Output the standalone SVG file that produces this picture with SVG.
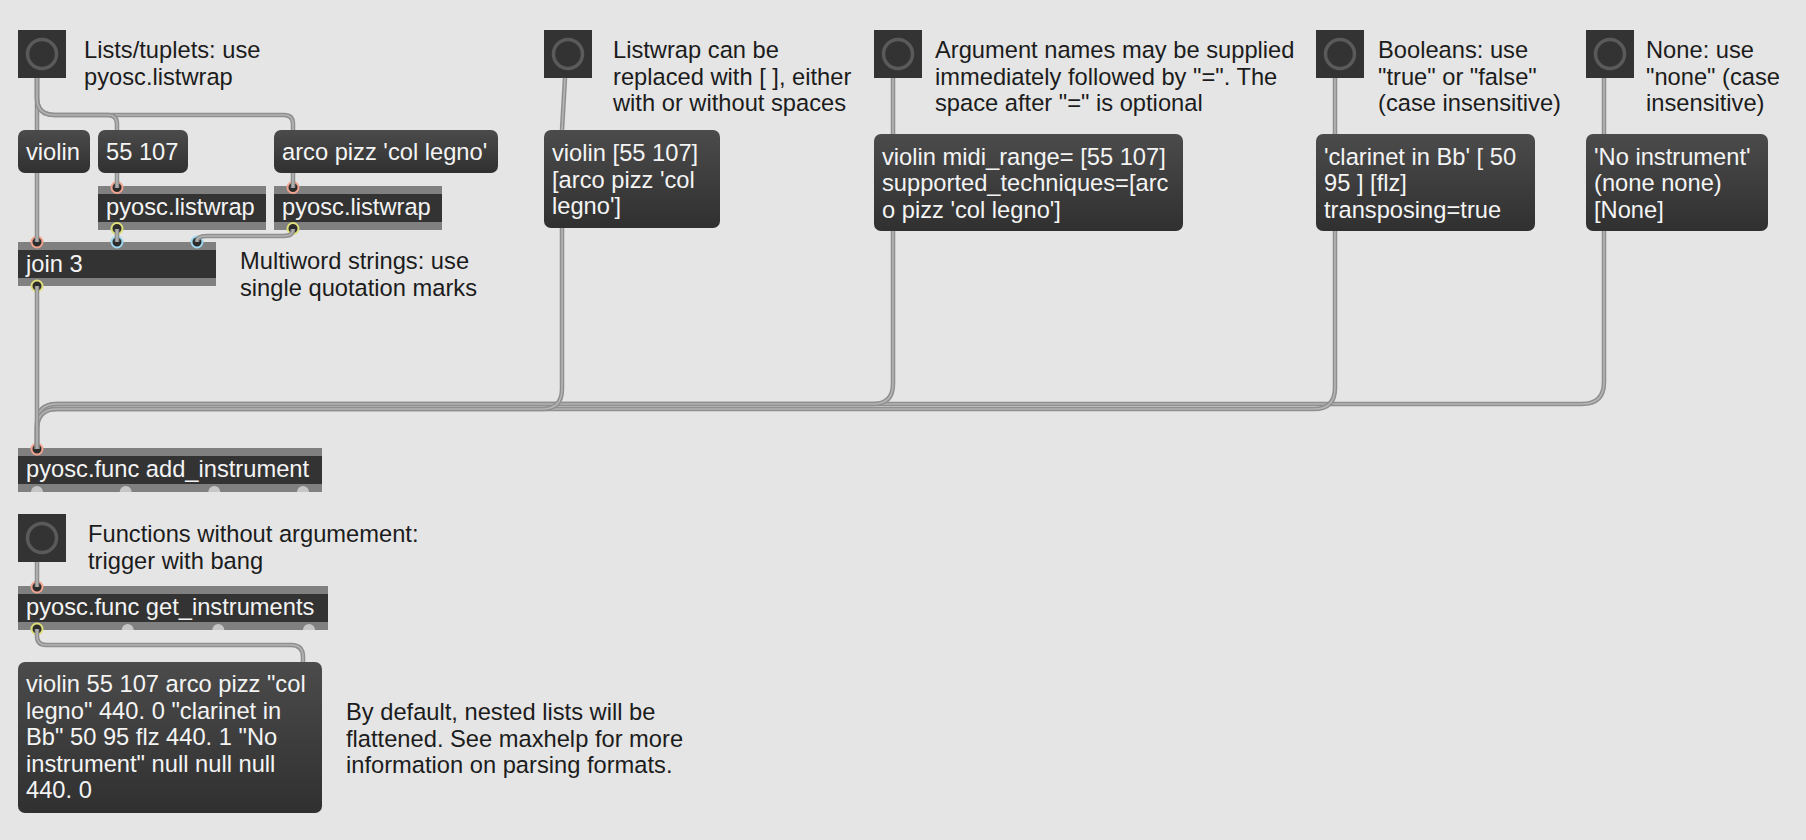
<svg xmlns="http://www.w3.org/2000/svg" width="1806" height="840" viewBox="0 0 1806 840">
<defs>
<linearGradient id="mg" x1="0" y1="0" x2="0" y2="1"><stop offset="0" stop-color="#4b4b4b"/><stop offset="1" stop-color="#303030"/></linearGradient>
<style>
text{font-family:"Liberation Sans",Arial,Helvetica,sans-serif;font-size:23.7px}
.cm{fill:#1c1c1c}
.mt{fill:#f4f4f4}
.msg{fill:url(#mg)}
.bang{fill:#333333}
.ring{fill:none;stroke:#5a5a5a;stroke-width:3.5}
.band{fill:#808080}
.core{fill:#333333}
.in{fill:#2c2c2c;stroke:#f2a38f;stroke-width:2}
.inb{fill:#2c2c2c;stroke:#9fd8ee;stroke-width:2}
.out{fill:#2c2c2c;stroke:#dede78;stroke-width:2}
.bump{fill:#c6c6c6}
.co{fill:none;stroke:#8f8f8f;stroke-width:4.5;stroke-linejoin:round}
.ci{fill:none;stroke:#b4b4b4;stroke-width:1.6;stroke-linejoin:round}
</style>
</defs>
<rect width="1806" height="840" fill="#e5e5e5"/>

<!-- comments -->
<g id="comment_lists"><text class="cm" x="84" y="58">Lists/tuplets: use</text><text class="cm" x="84" y="84.5">pyosc.listwrap</text></g>
<g id="comment_multiword"><text class="cm" x="240" y="269">Multiword strings: use</text><text class="cm" x="240" y="295.5">single quotation marks</text></g>
<g id="comment_listwrap"><text class="cm" x="613" y="58">Listwrap can be</text><text class="cm" x="613" y="84.5">replaced with [ ], either</text><text class="cm" x="613" y="111">with or without spaces</text></g>
<g id="comment_args"><text class="cm" x="935" y="58">Argument names may be supplied</text><text class="cm" x="935" y="84.5">immediately followed by "=". The</text><text class="cm" x="935" y="111">space after "=" is optional</text></g>
<g id="comment_bool"><text class="cm" x="1378" y="58">Booleans: use</text><text class="cm" x="1378" y="84.5">"true" or "false"</text><text class="cm" x="1378" y="111">(case insensitive)</text></g>
<g id="comment_none"><text class="cm" x="1646" y="58">None: use</text><text class="cm" x="1646" y="84.5">"none" (case</text><text class="cm" x="1646" y="111">insensitive)</text></g>
<g id="comment_func"><text class="cm" x="88" y="542">Functions without argumement:</text><text class="cm" x="88" y="568.5">trigger with bang</text></g>
<g id="comment_default"><text class="cm" x="346" y="720">By default, nested lists will be</text><text class="cm" x="346" y="746.5">flattened. See maxhelp for more</text><text class="cm" x="346" y="773">information on parsing formats.</text></g>

<!-- bangs -->
<g id="bang1"><rect class="bang" x="18" y="30" width="48" height="48"/><circle class="ring" cx="42" cy="54" r="14.5"/></g>
<g id="bang2"><rect class="bang" x="544" y="30" width="48" height="48"/><circle class="ring" cx="568" cy="54" r="14.5"/></g>
<g id="bang3"><rect class="bang" x="874" y="30" width="48" height="48"/><circle class="ring" cx="898" cy="54" r="14.5"/></g>
<g id="bang4"><rect class="bang" x="1316" y="30" width="48" height="48"/><circle class="ring" cx="1340" cy="54" r="14.5"/></g>
<g id="bang5"><rect class="bang" x="1586" y="30" width="48" height="48"/><circle class="ring" cx="1610" cy="54" r="14.5"/></g>
<g id="bang6"><rect class="bang" x="18" y="514" width="48" height="48"/><circle class="ring" cx="42" cy="538" r="14.5"/></g>

<!-- messages -->
<g id="msg_violin"><rect class="msg" x="18" y="130" width="72" height="43" rx="7"/><text class="mt" x="26" y="160">violin</text></g>
<g id="msg_range"><rect class="msg" x="98" y="130" width="90" height="43" rx="7"/><text class="mt" x="106" y="160">55 107</text></g>
<g id="msg_tech"><rect class="msg" x="274" y="130" width="224" height="43" rx="7"/><text class="mt" x="282" y="160">arco pizz 'col legno'</text></g>
<g id="msg_brackets"><rect class="msg" x="544" y="130" width="176" height="98" rx="7"/><text class="mt" x="552" y="161">violin [55 107]</text><text class="mt" x="552" y="187.5">[arco pizz 'col</text><text class="mt" x="552" y="214">legno']</text></g>
<g id="msg_named"><rect class="msg" x="874" y="134" width="309" height="97" rx="7"/><text class="mt" x="882" y="164.5">violin midi_range= [55 107]</text><text class="mt" x="882" y="191">supported_techniques=[arc</text><text class="mt" x="882" y="217.5">o pizz 'col legno']</text></g>
<g id="msg_clarinet"><rect class="msg" x="1316" y="134" width="219" height="97" rx="7"/><text class="mt" x="1324" y="164.5">'clarinet in Bb' [ 50</text><text class="mt" x="1324" y="191">95 ] [flz]</text><text class="mt" x="1324" y="217.5">transposing=true</text></g>
<g id="msg_none"><rect class="msg" x="1586" y="134" width="182" height="97" rx="7"/><text class="mt" x="1594" y="164.5">'No instrument'</text><text class="mt" x="1594" y="191">(none none)</text><text class="mt" x="1594" y="217.5">[None]</text></g>
<g id="msg_result"><rect class="msg" x="18" y="662" width="304" height="151" rx="7"/><text class="mt" x="26" y="692">violin 55 107 arco pizz "col</text><text class="mt" x="26" y="718.5">legno" 440. 0 "clarinet in</text><text class="mt" x="26" y="745">Bb" 50 95 flz 440. 1 "No</text><text class="mt" x="26" y="771.5">instrument" null null null</text><text class="mt" x="26" y="798">440. 0</text></g>

<!-- objects -->
<g id="obj_listwrap1"><rect class="band" x="98" y="186" width="168" height="44"/><rect class="core" x="98" y="194" width="168" height="28"/><text class="mt" x="106" y="215">pyosc.listwrap</text><circle class="in" cx="117" cy="187.5" r="5.5"/><circle class="out" cx="117" cy="228.5" r="5.5"/></g>
<g id="obj_listwrap2"><rect class="band" x="274" y="186" width="168" height="44"/><rect class="core" x="274" y="194" width="168" height="28"/><text class="mt" x="282" y="215">pyosc.listwrap</text><circle class="in" cx="293" cy="187.5" r="5.5"/><circle class="out" cx="293" cy="228.5" r="5.5"/></g>
<g id="obj_join"><rect class="band" x="18" y="242" width="198" height="44"/><rect class="core" x="18" y="250" width="198" height="28"/><text class="mt" x="26" y="272">join 3</text><circle class="in" cx="37" cy="242" r="5.5"/><circle class="inb" cx="117" cy="242" r="5.5"/><circle class="inb" cx="197" cy="242" r="5.5"/><circle class="out" cx="37" cy="286" r="5.5"/></g>
<g id="obj_add"><rect class="band" x="18" y="448" width="304" height="44"/><rect class="core" x="18" y="456" width="304" height="28"/><text class="mt" x="26" y="477">pyosc.func add_instrument</text><circle class="in" cx="37" cy="449" r="5.5"/><path class="bump" d="M31,492 A6,6 0 0 1 43,492 Z"/><path class="bump" d="M119.7,492 A6,6 0 0 1 131.7,492 Z"/><path class="bump" d="M208.3,492 A6,6 0 0 1 220.3,492 Z"/><path class="bump" d="M297,492 A6,6 0 0 1 309,492 Z"/></g>
<g id="obj_get"><rect class="band" x="18" y="586" width="310" height="44"/><rect class="core" x="18" y="594" width="310" height="28"/><text class="mt" x="26" y="615">pyosc.func get_instruments</text><circle class="in" cx="37" cy="587" r="5.5"/><circle class="out" cx="37" cy="629" r="5.5"/><path class="bump" d="M121.7,630 A6,6 0 0 1 133.7,630 Z"/><path class="bump" d="M212.3,630 A6,6 0 0 1 224.3,630 Z"/><path class="bump" d="M303,630 A6,6 0 0 1 315,630 Z"/></g>

<!-- connectors -->
<g id="connectors">
<path class="co" d="M37,78 V130"/><path class="ci" d="M37,78 V130"/>
<path class="co" d="M37,173 V242"/><path class="ci" d="M37,173 V242"/>
<path class="co" d="M37,78 V98 Q37,115 55,115 H284 Q293,115 293,124 V130"/><path class="ci" d="M37,78 V98 Q37,115 55,115 H284 Q293,115 293,124 V130"/>
<path class="co" d="M37,78 V98 Q37,115 55,115 H108 Q117,115 117,124 V130"/><path class="ci" d="M37,78 V98 Q37,115 55,115 H108 Q117,115 117,124 V130"/>
<path class="co" d="M117,173 V188"/><path class="ci" d="M117,173 V188"/>
<path class="co" d="M293,173 V188"/><path class="ci" d="M293,173 V188"/>
<path class="co" d="M117,229 V242"/><path class="ci" d="M117,229 V242"/>
<path class="co" d="M293,229 C293,236 288,236 280,236 H207 C199,236 197,238 197,242"/><path class="ci" d="M293,229 C293,236 288,236 280,236 H207 C199,236 197,238 197,242"/>
<path class="co" d="M565,78 L562,130"/><path class="ci" d="M565,78 L562,130"/>
<path class="co" d="M893,78 V134"/><path class="ci" d="M893,78 V134"/>
<path class="co" d="M1335,78 V134"/><path class="ci" d="M1335,78 V134"/>
<path class="co" d="M1604,78 V134"/><path class="ci" d="M1604,78 V134"/>
<path class="co" d="M1604,231 V382 Q1604,404 1582,404 H57 Q37,404 37,424 V449"/><path class="ci" d="M1604,231 V382 Q1604,404 1582,404 H57 Q37,404 37,424 V449"/>
<path class="co" d="M893,231 V384 Q893,404 873,404 H57 Q37,404 37,424 V449"/><path class="ci" d="M893,231 V384 Q893,404 873,404 H57 Q37,404 37,424 V449"/>
<path class="co" d="M1335,231 V388 Q1335,409 1314,409 H57 Q37,409 37,429 V449"/><path class="ci" d="M1335,231 V388 Q1335,409 1314,409 H57 Q37,409 37,429 V449"/>
<path class="co" d="M562,228 V389 Q562,409 542,409 H57 Q37,409 37,429 V449"/><path class="ci" d="M562,228 V389 Q562,409 542,409 H57 Q37,409 37,429 V449"/>
<path class="co" d="M37,286 V449"/><path class="ci" d="M37,286 V449"/>
<path class="co" d="M37,562 V587"/><path class="ci" d="M37,562 V587"/>
<path class="co" d="M37,629 V636 Q37,645 46,645 H291 Q303,645 303,657 V662"/><path class="ci" d="M37,629 V636 Q37,645 46,645 H291 Q303,645 303,657 V662"/>
</g>
</svg>
